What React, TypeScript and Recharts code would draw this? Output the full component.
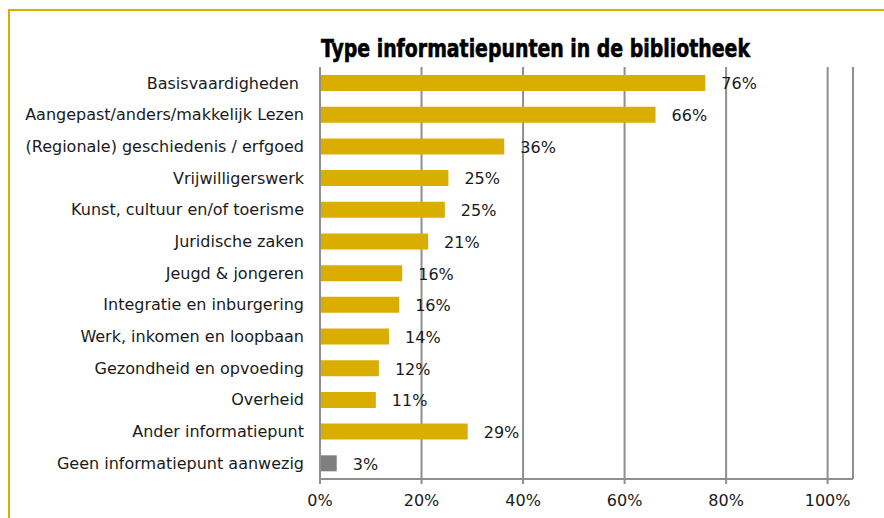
import { BarChart, Bar, XAxis, YAxis, CartesianGrid, Cell, LabelList } from "recharts";

const CATEGORIES = [
  "Basisvaardigheden\u00a0",
  "Aangepast/anders/makkelijk Lezen",
  "(Regionale) geschiedenis / erfgoed",
  "Vrijwilligerswerk",
  "Kunst, cultuur en/of toerisme",
  "Juridische zaken",
  "Jeugd & jongeren",
  "Integratie en inburgering",
  "Werk, inkomen en loopbaan",
  "Gezondheid en opvoeding",
  "Overheid",
  "Ander informatiepunt",
  "Geen informatiepunt aanwezig",
];

// percentages as drawn (labels show the rounded value)
const VALUES = [75.9, 66.1, 36.3, 25.3, 24.6, 21.3, 16.2, 15.6, 13.6, 11.6, 11.0, 29.1, 3.3];

const X_TICKS = [0, 20, 40, 60, 80, 100];

const GOLD = "#d9ae00";
const GREY_BAR = "#7f7f7f";
const GRID = "#8f8f8f";
const TEXT = "#1a1a1a";

const data = CATEGORIES.map((name, i) => ({ name, value: VALUES[i] }));

function ValueLabel(props: any) {
  const { x, y, width, height, value } = props;
  return (
    <text x={x + width + 16} y={y + height / 2} dy="0.4em" textAnchor="start" fontSize={16} fill={TEXT} fontFamily="DejaVu Sans, Verdana, sans-serif">
      {`${Math.round(value)}%`}
    </text>
  );
}

export default function App() {
  return (
    <div style={{ position: "absolute", left: 0, top: 0, width: 884, height: 518, background: "#fff", fontFamily: "DejaVu Sans, Verdana, sans-serif" }}>
      <div style={{ position: "absolute", left: 8, top: 9, width: 876, height: 2, background: GOLD }} />
      <div style={{ position: "absolute", left: 8, top: 9, width: 2, height: 509, background: GOLD }} />
      <svg width={884} height={70} style={{ position: "absolute", left: 0, top: 0, pointerEvents: "none" }}>
        <text
          x={321}
          y={57}
          fontFamily="'Liberation Sans Narrow', 'DejaVu Sans Condensed', sans-serif"
          fontWeight="bold"
          fontSize={25}
          fill="#000"
          stroke="#000"
          strokeWidth={0.6}
          textLength={429}
          lengthAdjust="spacingAndGlyphs"
        >
          Type informatiepunten in de bibliotheek
        </text>
      </svg>
      <BarChart width={884} height={518} data={data} layout="vertical" margin={{ top: 67, right: 31, bottom: 9, left: 0 }} style={{ position: "absolute", left: 0, top: 0 }}>
        <CartesianGrid horizontal={false} stroke={GRID} strokeWidth={2} />
        <XAxis
          type="number"
          domain={[0, 105]}
          ticks={X_TICKS}
          tickFormatter={(v) => `${v}%`}
          axisLine={{ stroke: GRID, strokeWidth: 2 }}
          tickLine={{ stroke: GRID, strokeWidth: 2 }}
          tickSize={5}
          tickMargin={11}
          tick={{ fontSize: 16, fill: TEXT }}
        />
        <YAxis
          type="category"
          dataKey="name"
          width={320}
          interval={0}
          axisLine={{ stroke: GRID, strokeWidth: 2 }}
          tickLine={false}
          tickSize={8}
          tickMargin={8}
          tick={{ fontSize: 16, fill: TEXT }}
        />
        <Bar dataKey="value" barSize={16} isAnimationActive={false}>
          {data.map((_, i) => (
            <Cell key={i} fill={i === data.length - 1 ? GREY_BAR : GOLD} />
          ))}
          <LabelList dataKey="value" content={ValueLabel} />
        </Bar>
      </BarChart>
    </div>
  );
}
